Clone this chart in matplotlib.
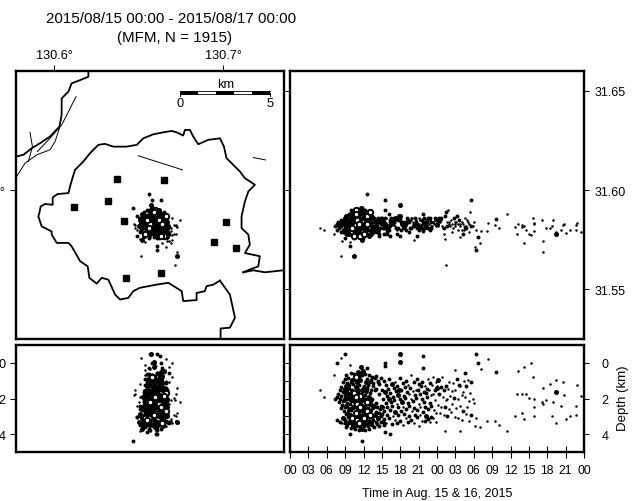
import matplotlib
matplotlib.use('Agg')
import matplotlib.pyplot as plt
import numpy as np

plt.rcParams['font.family'] = ['Liberation Sans', 'DejaVu Sans']
plt.rcParams['font.size'] = 9
plt.rcParams['axes.linewidth'] = 1.7

# Events, one position per event in every list
event_hour = [
    4.9, 5.6, 7.2, 7.6, 8.4, 9.0, 9.8, 9.8, 8.5, 10.4,
    11.7, 16.3, 15.5, 18.0, 18.0, 21.7, 21.7, 15.5, 15.5, 12.5,
    26.9, 28.5, 30.4, 30.7, 32.3, 31.2, 33.7, 37.2, 38.2, 39.3,
    39.7, 41.3, 42.5, 43.5, 44.6, 46.9, 43.5, 44.7, 47.5, 41.1,
    41.8, 42.9, 44.3, 46.7, 42.7, 45.7, 45.1, 46.7, 43.5, 39.9,
    39.9, 38.2, 37.8, 36.8, 38.6, 37.0, 37.9, 39.1, 39.9, 35.5,
    34.2, 33.4, 32.1, 31.0, 30.2, 29.5, 27.7, 25.3, 25.5, 41.3,
    9.2, 9.9, 10.5, 11.1, 11.6, 12.3, 12.9, 13.4, 14.1, 14.8,
    8.9, 9.5, 10.2, 10.8, 11.4, 11.9, 12.5, 13.2, 13.8, 14.4,
    8.7, 9.3, 10.0, 10.6, 11.2, 11.8, 12.4, 13.0, 13.6, 14.3,
    8.4, 9.1, 9.7, 10.3, 11.0, 11.5, 12.1, 12.8, 13.5, 14.6,
    8.1, 8.8, 9.4, 10.1, 10.7, 11.3, 11.9, 12.6, 13.3, 14.0,
    7.9, 8.6, 9.2, 9.9, 10.5, 11.1, 11.7, 12.4, 13.1, 13.8,
    7.6, 8.4, 9.0, 9.6, 10.2, 10.9, 11.5, 12.2, 12.9, 14.5,
    7.4, 8.2, 8.9, 9.5, 10.1, 10.7, 11.3, 12.0, 12.7, 13.4,
    8.0, 8.7, 9.3, 9.9, 10.6, 11.2, 11.8, 12.5, 13.2, 14.1,
    8.5, 9.1, 9.8, 10.4, 11.0, 11.6, 12.3, 13.0, 13.7, 14.9,
    8.3, 9.0, 9.6, 10.3, 10.9, 11.5, 12.1, 12.8, 13.5, 14.2,
    8.8, 9.4, 10.0, 10.7, 11.3, 11.9, 12.6, 13.3, 14.0, 14.7,
    9.2, 9.8, 10.5, 11.1, 11.7, 12.4, 13.1, 13.8, 14.5, 15.0,
    8.6, 9.5, 10.2, 10.8, 11.4, 12.0, 12.7, 13.4, 14.3, 14.9,
    9.0, 9.7, 10.4, 11.0, 11.6, 12.2, 12.9, 13.6, 14.4, 15.2,
    7.7, 8.9, 10.1, 10.7, 11.3, 11.9, 12.5, 13.2, 14.0, 14.8,
    8.2, 9.3, 10.3, 11.0, 11.5, 12.1, 12.7, 13.4, 14.2, 15.3,
    9.1, 10.0, 10.6, 11.2, 11.8, 12.3, 12.9, 13.7, 14.6, 15.4,
    15.3, 16.2, 17.1, 18.0, 18.9, 19.8, 20.7, 21.6, 22.5, 23.4,
    15.7, 16.6, 17.5, 18.4, 19.3, 20.2, 21.1, 22.0, 22.9, 23.8,
    15.1, 16.0, 16.9, 17.8, 18.7, 19.6, 20.5, 21.4, 22.3, 23.2,
    15.5, 16.4, 17.3, 18.2, 19.1, 20.0, 20.9, 21.8, 22.7, 23.6,
    15.9, 16.8, 17.7, 18.6, 19.5, 20.4, 21.3, 22.2, 23.1, 24.0,
    15.2, 16.1, 17.0, 17.9, 18.8, 19.7, 20.6, 21.5, 22.4, 23.3,
    15.6, 16.5, 17.4, 18.3, 19.2, 20.1, 21.0, 21.9, 22.8, 23.7,
    15.0, 15.8, 16.7, 17.6, 18.5, 19.4, 20.3, 21.2, 22.1, 23.0,
    15.4, 16.3, 17.2, 18.1, 19.0, 19.9, 20.8, 21.7, 22.6, 23.5,
    15.9, 16.8, 17.7, 18.6, 19.5, 20.4, 21.3, 22.2, 23.1, 23.9,
    15.3, 16.2, 17.1, 18.0, 18.9, 19.8, 20.7, 21.6, 22.5, 23.4,
    15.7, 16.6, 17.5, 18.4, 19.3, 20.2, 21.1, 22.0, 22.9, 23.8,
    24.2, 24.8, 25.4, 26.0, 26.6, 27.2, 27.8, 28.4, 29.0, 29.6,
    24.0, 24.6, 25.2, 25.8, 26.4, 27.0, 27.6, 28.2, 28.8, 29.4,
    24.4, 25.0, 25.6, 26.2, 26.8, 27.4, 28.0, 28.6, 29.2, 29.8,
    24.1, 24.7, 25.3, 25.9, 26.5, 27.1, 27.7, 28.3, 28.9, 30.0,
    24.5, 25.1, 25.7, 26.3, 26.9, 27.5, 28.1, 28.7, 29.3, 30.3,
]
event_depth = [
    1.5, 1.9, 0.7, 0.0, -0.25, -0.5, 0.1, 4.0, 3.4, 3.3,
    4.4, 4.0, 3.9, -0.5, -0.05, -0.4, 0.3, 0.0, 0.2, 0.3,
    0.4, 0.55, -0.5, 0.0, -0.2, 0.35, 0.5, 0.45, 0.25, 0.0,
    0.8, 1.4, 1.2, 0.95, 1.1, 1.25, 1.65, 1.8, 1.85, 2.2,
    2.1, 2.2, 2.4, 2.4, 3.0, 3.0, 3.15, 2.95, 3.35, 2.5,
    3.0, 3.15, 2.8, 3.0, 1.75, 1.75, 1.75, 1.95, 2.05, 3.8,
    3.5, 3.25, 3.25, 3.6, 3.55, 2.9, 3.8, 3.8, 2.1, 2.3,
    0.7, 0.55, 0.65, 0.5, 0.25, 0.6, 0.7, 0.8, 0.75, 0.85,
    0.9, 0.85, 0.95, 0.8, 0.55, 0.45, 0.9, 0.95, 0.85, 1.0,
    1.1, 1.15, 1.05, 0.9, 0.75, 0.7, 1.1, 1.05, 1.15, 1.1,
    1.35, 1.3, 1.25, 1.2, 1.05, 0.95, 1.3, 1.25, 1.3, 1.2,
    1.5, 1.45, 1.4, 1.5, 1.35, 1.25, 1.45, 1.4, 1.5, 1.45,
    1.75, 1.65, 1.6, 1.55, 1.7, 1.5, 1.65, 1.6, 1.7, 1.55,
    1.9, 1.85, 1.8, 1.75, 1.9, 1.7, 1.85, 1.8, 1.9, 1.75,
    2.05, 2.0, 2.05, 1.95, 2.1, 1.9, 2.0, 2.05, 1.95, 2.0,
    2.2, 2.15, 2.25, 2.1, 2.2, 2.15, 2.1, 2.2, 2.15, 2.25,
    2.35, 2.4, 2.3, 2.45, 2.3, 2.35, 2.4, 2.3, 2.35, 2.4,
    2.55, 2.5, 2.6, 2.5, 2.55, 2.5, 2.6, 2.55, 2.5, 2.45,
    2.7, 2.75, 2.65, 2.8, 2.7, 2.75, 2.7, 2.65, 2.75, 2.6,
    2.85, 2.9, 2.95, 2.85, 2.9, 2.85, 2.95, 2.9, 2.8, 2.85,
    3.1, 3.05, 3.1, 3.0, 3.05, 3.1, 3.0, 3.05, 3.1, 3.0,
    3.2, 3.3, 3.25, 3.2, 3.3, 3.2, 3.25, 3.2, 3.15, 3.25,
    3.2, 3.4, 3.4, 3.45, 3.4, 3.35, 3.4, 3.35, 3.3, 3.3,
    3.3, 3.5, 3.55, 3.5, 3.6, 3.5, 3.55, 3.5, 3.45, 3.4,
    3.6, 3.65, 3.7, 3.75, 3.7, 3.75, 3.7, 3.6, 3.55, 3.5,
    1.0, 0.9, 1.1, 0.85, 1.0, 0.7, 0.9, 1.05, 0.9, 0.8,
    1.25, 1.2, 1.3, 1.15, 1.25, 1.1, 1.2, 1.3, 1.15, 1.05,
    1.5, 1.45, 1.4, 1.5, 1.35, 1.4, 1.5, 1.3, 1.45, 1.25,
    1.65, 1.7, 1.6, 1.55, 1.65, 1.6, 1.55, 1.65, 1.5, 1.5,
    1.85, 1.9, 1.8, 1.85, 1.75, 1.8, 1.75, 1.7, 1.8, 1.4,
    2.05, 2.0, 2.1, 2.0, 1.95, 2.05, 1.95, 2.0, 1.9, 1.75,
    2.25, 2.2, 2.3, 2.2, 2.25, 2.15, 2.3, 2.2, 2.25, 2.1,
    2.5, 2.45, 2.4, 2.5, 2.45, 2.4, 2.55, 2.45, 2.5, 2.4,
    2.7, 2.65, 2.75, 2.7, 2.6, 2.7, 2.65, 2.75, 2.6, 2.65,
    2.95, 3.0, 2.9, 2.85, 3.0, 2.95, 2.9, 3.0, 3.05, 2.8,
    3.15, 3.1, 3.2, 3.25, 3.1, 3.2, 3.05, 3.25, 3.15, 3.1,
    3.4, 3.45, 3.35, 3.5, 3.3, 3.35, 3.55, 3.25, 3.3, 3.3,
    0.95, 0.8, 1.3, 1.1, 1.15, 0.9, 1.3, 1.0, 0.95, 1.1,
    1.3, 1.35, 1.5, 1.45, 1.6, 1.55, 1.25, 1.65, 1.3, 1.7,
    1.75, 1.9, 2.0, 1.85, 1.95, 2.05, 1.8, 1.9, 2.15, 2.0,
    2.35, 2.45, 2.5, 2.6, 2.3, 2.55, 2.4, 2.7, 2.45, 2.25,
    2.8, 2.95, 3.0, 2.75, 3.05, 3.1, 3.2, 2.85, 3.25, 3.1,
]
event_lat = [
    31.581, 31.580, 31.578, 31.5825, 31.567, 31.586, 31.574, 31.572, 31.5745, 31.567,
    31.591, 31.577, 31.590, 31.5925, 31.587, 31.588, 31.5795, 31.595, 31.586, 31.598,
    31.584, 31.5815, 31.570, 31.5765, 31.5835, 31.5795, 31.5855, 31.583, 31.582, 31.5775,
    31.586, 31.569, 31.581, 31.579, 31.5825, 31.5835, 31.578, 31.583, 31.579, 31.585,
    31.581, 31.585, 31.580, 31.580, 31.582, 31.580, 31.5785, 31.5825, 31.5775, 31.5795,
    31.583, 31.5735, 31.5815, 31.5815, 31.580, 31.578, 31.5825, 31.578, 31.5835, 31.588,
    31.581, 31.5825, 31.5795, 31.5735, 31.5715, 31.595, 31.5765, 31.5755, 31.5623, 31.5745,
    31.583, 31.587, 31.579, 31.585, 31.590, 31.581, 31.586, 31.584, 31.580, 31.586,
    31.581, 31.578, 31.585, 31.589, 31.583, 31.586, 31.578, 31.587, 31.582, 31.584,
    31.584, 31.586, 31.581, 31.577, 31.588, 31.591, 31.583, 31.580, 31.586, 31.579,
    31.579, 31.583, 31.588, 31.584, 31.580, 31.578, 31.589, 31.585, 31.582, 31.577,
    31.582, 31.585, 31.578, 31.582, 31.590, 31.585, 31.581, 31.587, 31.579, 31.583,
    31.584, 31.580, 31.586, 31.590, 31.577, 31.583, 31.588, 31.580, 31.586, 31.581,
    31.583, 31.582, 31.579, 31.585, 31.587, 31.581, 31.577, 31.590, 31.583, 31.585,
    31.582, 31.584, 31.586, 31.580, 31.583, 31.590, 31.585, 31.578, 31.587, 31.582,
    31.581, 31.579, 31.583, 31.588, 31.578, 31.586, 31.589, 31.583, 31.580, 31.584,
    31.583, 31.587, 31.581, 31.576, 31.585, 31.591, 31.579, 31.584, 31.586, 31.583,
    31.585, 31.582, 31.578, 31.584, 31.589, 31.577, 31.583, 31.588, 31.581, 31.579,
    31.580, 31.586, 31.583, 31.588, 31.580, 31.576, 31.587, 31.582, 31.585, 31.581,
    31.578, 31.584, 31.587, 31.582, 31.577, 31.585, 31.589, 31.581, 31.578, 31.584,
    31.584, 31.579, 31.581, 31.589, 31.584, 31.578, 31.583, 31.587, 31.580, 31.585,
    31.586, 31.582, 31.578, 31.585, 31.590, 31.582, 31.577, 31.584, 31.586, 31.581,
    31.580, 31.576, 31.585, 31.579, 31.583, 31.588, 31.581, 31.578, 31.585, 31.583,
    31.583, 31.585, 31.589, 31.577, 31.581, 31.586, 31.580, 31.586, 31.582, 31.578,
    31.578, 31.584, 31.577, 31.587, 31.575, 31.583, 31.586, 31.579, 31.584, 31.582,
    31.584, 31.588, 31.582, 31.585, 31.580, 31.586, 31.583, 31.585, 31.581, 31.584,
    31.581, 31.584, 31.586, 31.582, 31.585, 31.583, 31.580, 31.583, 31.586, 31.585,
    31.586, 31.581, 31.584, 31.587, 31.583, 31.581, 31.585, 31.582, 31.584, 31.582,
    31.583, 31.585, 31.581, 31.584, 31.586, 31.584, 31.582, 31.586, 31.583, 31.586,
    31.580, 31.583, 31.586, 31.581, 31.584, 31.586, 31.581, 31.584, 31.582, 31.583,
    31.585, 31.582, 31.584, 31.586, 31.582, 31.585, 31.584, 31.581, 31.585, 31.584,
    31.582, 31.586, 31.580, 31.583, 31.585, 31.582, 31.586, 31.583, 31.580, 31.585,
    31.584, 31.579, 31.583, 31.585, 31.581, 31.584, 31.582, 31.585, 31.583, 31.581,
    31.581, 31.584, 31.586, 31.580, 31.583, 31.586, 31.581, 31.584, 31.586, 31.583,
    31.578, 31.586, 31.581, 31.584, 31.579, 31.583, 31.585, 31.582, 31.584, 31.586,
    31.583, 31.580, 31.585, 31.577, 31.584, 31.581, 31.577, 31.583, 31.581, 31.584,
    31.586, 31.583, 31.578, 31.582, 31.585, 31.575, 31.583, 31.581, 31.585, 31.582,
    31.585, 31.582, 31.589, 31.584, 31.581, 31.587, 31.583, 31.580, 31.584, 31.582,
    31.583, 31.586, 31.581, 31.590, 31.583, 31.582, 31.585, 31.583, 31.581, 31.589,
    31.586, 31.581, 31.584, 31.582, 31.586, 31.583, 31.580, 31.586, 31.583, 31.582,
    31.582, 31.585, 31.587, 31.583, 31.579, 31.584, 31.582, 31.578, 31.585, 31.584,
    31.584, 31.578, 31.582, 31.585, 31.583, 31.580, 31.584, 31.582, 31.579, 31.580,
]
event_lon = [
    130.648, 130.651, 130.654, 130.658, 130.6515, 130.657, 130.654, 130.661, 130.667, 130.6725,
    130.6465, 130.6605, 130.655, 130.6575, 130.659, 130.6625, 130.664, 130.6635, 130.6595, 130.6562,
    130.654, 130.668, 130.661, 130.659, 130.666, 130.657, 130.665, 130.663, 130.668, 130.670,
    130.670, 130.6725, 130.651, 130.655, 130.668, 130.664, 130.6595, 130.647, 130.666, 130.650,
    130.669, 130.6745, 130.656, 130.649, 130.672, 130.665, 130.658, 130.671, 130.668, 130.652,
    130.663, 130.669, 130.673, 130.650, 130.666, 130.672, 130.648, 130.671, 130.665, 130.6605,
    130.654, 130.672, 130.669, 130.664, 130.666, 130.658, 130.657, 130.651, 130.6715, 130.668,
    130.658, 130.661, 130.656, 130.663, 130.659, 130.655, 130.662, 130.657, 130.660, 130.664,
    130.660, 130.656, 130.663, 130.658, 130.661, 130.665, 130.655, 130.659, 130.662, 130.657,
    130.657, 130.662, 130.655, 130.660, 130.664, 130.658, 130.656, 130.661, 130.666, 130.659,
    130.661, 130.655, 130.659, 130.664, 130.657, 130.662, 130.660, 130.654, 130.658, 130.663,
    130.656, 130.660, 130.665, 130.658, 130.662, 130.655, 130.659, 130.664, 130.657, 130.661,
    130.662, 130.657, 130.654, 130.660, 130.666, 130.658, 130.653, 130.661, 130.656, 130.663,
    130.655, 130.659, 130.663, 130.657, 130.652, 130.661, 130.665, 130.656, 130.660, 130.654,
    130.664, 130.653, 130.658, 130.662, 130.656, 130.660, 130.654, 130.667, 130.659, 130.657,
    130.658, 130.663, 130.655, 130.660, 130.665, 130.653, 130.662, 130.657, 130.667, 130.661,
    130.653, 130.660, 130.664, 130.656, 130.662, 130.658, 130.651, 130.666, 130.659, 130.655,
    130.661, 130.655, 130.659, 130.667, 130.653, 130.663, 130.657, 130.660, 130.652, 130.665,
    130.657, 130.664, 130.652, 130.660, 130.655, 130.662, 130.666, 130.658, 130.654, 130.663,
    130.665, 130.654, 130.661, 130.657, 130.663, 130.651, 130.659, 130.667, 130.656, 130.660,
    130.652, 130.662, 130.656, 130.665, 130.658, 130.654, 130.661, 130.649, 130.664, 130.659,
    130.660, 130.650, 130.664, 130.655, 130.661, 130.657, 130.653, 130.663, 130.659, 130.666,
    130.656, 130.661, 130.654, 130.659, 130.664, 130.652, 130.662, 130.657, 130.660, 130.655,
    130.663, 130.655, 130.659, 130.653, 130.661, 130.657, 130.665, 130.651, 130.660, 130.656,
    130.654, 130.660, 130.663, 130.657, 130.652, 130.661, 130.656, 130.664, 130.659, 130.662,
    130.661, 130.657, 130.664, 130.659, 130.662, 130.655, 130.660, 130.666, 130.658, 130.663,
    130.656, 130.663, 130.659, 130.665, 130.654, 130.661, 130.657, 130.662, 130.660, 130.658,
    130.664, 130.658, 130.661, 130.655, 130.660, 130.666, 130.653, 130.659, 130.663, 130.656,
    130.659, 130.666, 130.654, 130.662, 130.657, 130.660, 130.664, 130.656, 130.661, 130.667,
    130.662, 130.655, 130.660, 130.664, 130.658, 130.653, 130.661, 130.665, 130.657, 130.659,
    130.657, 130.661, 130.665, 130.656, 130.663, 130.659, 130.654, 130.660, 130.666, 130.662,
    130.665, 130.653, 130.658, 130.661, 130.655, 130.667, 130.659, 130.663, 130.656, 130.660,
    130.660, 130.664, 130.656, 130.653, 130.662, 130.657, 130.665, 130.658, 130.654, 130.661,
    130.654, 130.659, 130.663, 130.666, 130.651, 130.660, 130.656, 130.664, 130.658, 130.662,
    130.663, 130.650, 130.661, 130.657, 130.665, 130.654, 130.659, 130.667, 130.652, 130.660,
    130.658, 130.665, 130.653, 130.660, 130.656, 130.663, 130.649, 130.661, 130.664, 130.655,
    130.661, 130.655, 130.668, 130.652, 130.659, 130.670, 130.657, 130.654, 130.663, 130.650,
    130.658, 130.663, 130.656, 130.661, 130.665, 130.654, 130.660, 130.657, 130.664, 130.662,
    130.661, 130.655, 130.667, 130.659, 130.653, 130.663, 130.657, 130.665, 130.660, 130.656,
    130.655, 130.664, 130.660, 130.652, 130.666, 130.658, 130.662, 130.656, 130.663, 130.659,
    130.663, 130.657, 130.654, 130.665, 130.660, 130.651, 130.667, 130.659, 130.655, 130.662,
    130.659, 130.666, 130.662, 130.655, 130.657, 130.664, 130.653, 130.660, 130.668, 130.656,
]
event_mag = [
    0, 0, 0, 1, 0, 1, 0, 1, 0, 2,
    1, 1, 1, 2, 2, 1, 1, 1, 1, 1,
    0, 1, 1, 1, 0, 0, 1, 0, 0, 0,
    0, 0, 0, 0, 0, 0, 2, 0, 0, 0,
    0, 0, 0, 0, 0, 0, 0, 0, 0, 0,
    0, 0, 0, 0, 0, 0, 0, 0, 0, 0,
    0, 0, 0, 0, 0, 1, 0, 0, 0, 0,
    1, 1, 1, 2, 2, 1, 1, 1, 1, 1,
    1, 1, 2, 3, 1, 2, 1, 1, 1, 1,
    1, 1, 1, 2, 2, 1, 2, 1, 1, 1,
    1, 2, 1, 1, 2, 2, 1, 1, 1, 1,
    1, 1, 2, 1, 2, 1, 2, 1, 1, 1,
    1, 1, 2, 1, 3, 2, 1, 2, 1, 1,
    1, 1, 1, 2, 1, 2, 3, 1, 2, 1,
    1, 1, 2, 2, 1, 3, 1, 2, 1, 1,
    1, 1, 1, 2, 2, 1, 2, 3, 1, 1,
    1, 2, 1, 1, 3, 2, 1, 2, 1, 1,
    1, 1, 2, 2, 1, 3, 2, 1, 2, 1,
    1, 1, 1, 3, 2, 1, 3, 1, 1, 1,
    1, 2, 1, 2, 1, 2, 3, 2, 1, 1,
    2, 1, 3, 1, 2, 3, 1, 1, 2, 1,
    1, 2, 1, 3, 2, 1, 2, 1, 1, 1,
    1, 1, 2, 1, 3, 2, 1, 2, 1, 1,
    1, 1, 2, 2, 1, 2, 1, 1, 1, 1,
    1, 1, 1, 1, 2, 1, 1, 1, 1, 1,
    1, 1, 0, 1, 1, 0, 1, 1, 0, 0,
    1, 2, 1, 1, 0, 1, 1, 0, 1, 0,
    1, 1, 1, 2, 1, 1, 0, 1, 1, 0,
    2, 1, 1, 1, 1, 0, 1, 1, 0, 1,
    1, 1, 2, 1, 0, 1, 1, 1, 0, 2,
    1, 2, 1, 1, 1, 0, 1, 1, 1, 0,
    1, 1, 0, 2, 1, 1, 0, 1, 1, 0,
    2, 1, 1, 1, 0, 1, 1, 0, 1, 1,
    1, 1, 2, 1, 1, 0, 1, 1, 1, 0,
    1, 0, 1, 1, 1, 1, 0, 2, 1, 0,
    1, 1, 0, 1, 0, 1, 1, 0, 1, 0,
    0, 1, 1, 0, 1, 0, 0, 1, 0, 0,
    2, 0, 1, 0, 0, 1, 0, 0, 0, 1,
    0, 1, 1, 0, 0, 0, 1, 0, 1, 0,
    1, 0, 0, 0, 1, 0, 0, 0, 0, 0,
    0, 0, 1, 0, 0, 0, 0, 1, 0, 0,
    0, 0, 1, 0, 0, 0, 0, 0, 0, 0,
]

# Observation stations
station_lon = [130.6374, 130.6648, 130.6118, 130.6317, 130.6416, 130.7015, 130.6944, 130.7074, 130.6630, 130.6426]
station_lat = [31.6054, 31.6049, 31.5915, 31.5945, 31.5844, 31.5841, 31.5740, 31.5709, 31.5583, 31.5558]

# Coast and boundary lines of the map
outline_lon = [130.6981, 130.6942, 130.6902, 130.6892, 130.6843, 130.6843, 130.6764, 130.6755, 130.6676, 130.6607,
               130.6508, 130.6469, 130.6439, 130.6390, 130.6361, 130.6321, 130.6282, 130.6252, 130.6209, 130.6199,
               130.6154, 130.6104, 130.6085, 130.6016, 130.5986, 130.5986, 130.5927, 130.5907, 130.5913, 130.5921,
               130.5947, 130.5992, 130.5992, 130.6020, 130.6085, 130.6100, 130.6124, 130.6173, 130.6213, 130.6262,
               130.6301, 130.6351, 130.6429, 130.6489, 130.6528, 130.6587, 130.6646, 130.6695, 130.6725, 130.6764,
               130.6774, 130.6804, 130.6823, 130.6853, 130.6912, 130.6981, 130.7005, 130.7020, 130.7060, 130.7099,
               130.7129, 130.7188, 130.7149, 130.7129, 130.7109, 130.7109, 130.7149, 130.7158, 130.7129, 130.7217,
               130.7208, 130.7158, 130.7119]
outline_lat = [31.5544, 31.5524, 31.5516, 31.5491, 31.5482, 31.5446, 31.5441, 31.5491, 31.5533, 31.5524,
               31.5508, 31.5491, 31.5457, 31.5449, 31.5474, 31.5549, 31.5558, 31.5529, 31.5558, 31.5616,
               31.5642, 31.5717, 31.5734, 31.5734, 31.5776, 31.5792, 31.5817, 31.5868, 31.5884, 31.5918,
               31.5930, 31.5926, 31.5963, 31.5980, 31.5985, 31.6035, 31.6102, 31.6144, 31.6186, 31.6228,
               31.6233, 31.6219, 31.6219, 31.6228, 31.6261, 31.6281, 31.6291, 31.6298, 31.6291, 31.6275,
               31.6303, 31.6303, 31.6270, 31.6231, 31.6253, 31.6261, 31.6219, 31.6161, 31.6127, 31.6094,
               31.6060, 31.6027, 31.5993, 31.5943, 31.5868, 31.5809, 31.5776, 31.5725, 31.5683, 31.5667,
               31.5616, 31.5600, 31.5586]
east_lon = [130.7119, 130.7178, 130.7247, 130.7355]
east_lat = [31.5586, 31.5596, 31.5586, 31.5596]
south_lon = [130.6981, 130.7040, 130.7070, 130.7040, 130.6985, 130.6985]
south_lat = [31.5544, 31.5474, 31.5357, 31.5307, 31.5303, 31.5256]
coast_lon = [130.6203, 130.6203, 130.6154, 130.6104, 130.6085, 130.6045, 130.6045, 130.6032, 130.5976, 130.5917,
             130.5868, 130.5819, 130.5775]
coast_lat = [31.6600, 31.6571, 31.6554, 31.6538, 31.6496, 31.6462, 31.6379, 31.6320, 31.6270, 31.6236,
             31.6211, 31.6178, 31.6169]

# Faults, thin lines
fault_lons = [[130.6130, 130.6085, 130.6045, 130.5976, 130.5901],
              [130.5858, 130.5872, 130.5848],
              [130.5779, 130.5829, 130.5898, 130.5976, 130.6006, 130.6035],
              [130.6498, 130.6760],
              [130.7178, 130.7251]]
fault_lats = [[31.6471, 31.6395, 31.6328, 31.6261, 31.6194],
              [31.6290, 31.6219, 31.6144],
              [31.6069, 31.6136, 31.6178, 31.6203, 31.6245, 31.6320],
              [31.6173, 31.6102],
              [31.6164, 31.6152]]

time_ticks = np.arange(0, 49, 3)
time_labels = ['00', '03', '06', '09', '12', '15', '18', '21', '00', '03', '06', '09', '12', '15', '18', '21', '00']
scale_km = [0, 1, 2, 3, 4, 5]

W, H = 637, 502
lon_lim = (130.5775, 130.7360)
lat_lim = (31.5250, 31.6600)
depth_lim = (5.0, -1.0)
time_lim = (0, 48)


def panel(x0, y0, x1, y1):
    # pixel box to figure fractions
    return fig.add_axes([x0 / W, 1 - y1 / H, (x1 - x0) / W, (y1 - y0) / H])


def quakes(ax, x, y):
    # small events come out as solid dots, only the biggest keep a white centre
    x, y, m = np.array(x), np.array(y), np.array(event_mag)
    ax.scatter(x[m == 0], y[m == 0], s=1.8 ** 2, color='black', linewidth=0, zorder=3)
    ax.scatter(x[m == 1], y[m == 1], s=2.8 ** 2, color='black', linewidth=0, zorder=3)
    ax.scatter(x[m == 2], y[m == 2], s=3.6 ** 2, color='black', linewidth=0, zorder=3)
    ax.scatter(x[m == 3], y[m == 3], s=3.9 ** 2, facecolor='white', edgecolor='black', linewidth=1.4, zorder=4)


fig = plt.figure(figsize=(W / 100, H / 100), dpi=100)
ax_map = panel(16, 72, 284, 340)
ax_lat = panel(290, 72, 584, 340)
ax_lon = panel(16, 346, 284, 453)
ax_time = panel(290, 346, 584, 453)

# Map
for lons, lats in [(outline_lon, outline_lat), (east_lon, east_lat), (south_lon, south_lat), (coast_lon, coast_lat)]:
    ax_map.plot(lons, lats, color='black', lw=1.3, solid_joinstyle='round')
for lons, lats in zip(fault_lons, fault_lats):
    ax_map.plot(lons, lats, color='black', lw=0.7)
ax_map.plot(station_lon, station_lat, 's', color='black', ms=4.6, zorder=4)
quakes(ax_map, event_lon, event_lat)
ax_map.set_xlim(lon_lim)
ax_map.set_ylim(lat_lim)
ax_map.set_xticks([130.6, 130.7])
ax_map.set_xticklabels(['130.6°', '130.7°'], fontsize=9.2)
ax_map.xaxis.tick_top()
ax_map.set_yticks([31.60])
ax_map.set_yticklabels(['31.60°'], fontsize=9.2)
ax_map.tick_params(axis='x', length=4, width=0.7, pad=3)
ax_map.tick_params(axis='y', length=4, width=0.7, pad=3.5)

# Scale bar, 5 km
deg_per_km = 0.01065
bar_lon = 130.6746
bar_lat = 31.6490
for i in range(5):
    ax_map.plot([bar_lon + scale_km[i] * deg_per_km, bar_lon + scale_km[i + 1] * deg_per_km], [bar_lat, bar_lat],
                color='black' if i % 2 == 0 else 'white', lw=2.6, solid_capstyle='butt', zorder=5)
ax_map.plot([bar_lon, bar_lon + 5 * deg_per_km], [bar_lat + 0.0007, bar_lat + 0.0007], color='black', lw=0.6, zorder=6)
ax_map.plot([bar_lon, bar_lon + 5 * deg_per_km], [bar_lat - 0.0007, bar_lat - 0.0007], color='black', lw=0.6, zorder=6)
ax_map.plot([bar_lon, bar_lon], [bar_lat, bar_lat - 0.0014], color='black', lw=0.7, zorder=6)
ax_map.plot([bar_lon + 5 * deg_per_km, bar_lon + 5 * deg_per_km], [bar_lat, bar_lat - 0.0014], color='black', lw=0.7, zorder=6)
ax_map.text(bar_lon + 2.5 * deg_per_km, bar_lat + 0.0012, 'km', ha='center', va='bottom', fontsize=9.2)
ax_map.text(bar_lon, bar_lat - 0.0020, '0', ha='center', va='top', fontsize=9.2)
ax_map.text(bar_lon + 5 * deg_per_km, bar_lat - 0.0020, '5', ha='center', va='top', fontsize=9.2)

# Latitude against time
quakes(ax_lat, event_hour, event_lat)
ax_lat.set_xlim(time_lim)
ax_lat.set_ylim(lat_lim)
ax_lat.set_xticks([])
ax_lat.set_yticks([31.55, 31.60, 31.65])
ax_lat.set_yticklabels(['31.55', '31.60', '31.65'], fontsize=9)
ax_lat.tick_params(axis='y', left=True, right=True, labelleft=False, labelright=True, length=3.6, width=0.7, pad=4)

# Depth against longitude
quakes(ax_lon, event_lon, event_depth)
ax_lon.set_xlim(lon_lim)
ax_lon.set_ylim(depth_lim)
ax_lon.set_xticks([])
ax_lon.set_yticks([0, 2, 4])
ax_lon.set_yticklabels(['0', '2', '4'], fontsize=9.2)
ax_lon.tick_params(axis='y', length=4, width=0.7, pad=3.5)
ax_lon.set_yticks([0, 1, 2, 3, 4], minor=True)
ax_lon.tick_params(axis='y', which='minor', left=False, right=True, length=3, width=0.7)

# Depth against time
quakes(ax_time, event_hour, event_depth)
ax_time.set_xlim(time_lim)
ax_time.set_ylim(depth_lim)
ax_time.set_xticks(time_ticks)
ax_time.set_xticklabels(time_labels, fontsize=8.8)
ax_time.tick_params(axis='x', direction='inout', length=8, width=0.8, pad=5)
ax_time.set_yticks([0, 2, 4])
ax_time.set_yticklabels(['0', '2', '4'], fontsize=9)
ax_time.tick_params(axis='y', left=True, right=True, labelleft=False, labelright=True, length=3.6, width=0.7, pad=9)
ax_time.set_yticks([0, 1, 2, 3, 4], minor=True)
ax_time.tick_params(axis='y', which='minor', left=True, right=False, length=3, width=0.7)

fig.text(623 / W, 1 - 398 / H, 'Depth (km)', rotation=90, ha='center', va='center', fontsize=9.5)
fig.text(437 / W, 1 - 494 / H, 'Time in Aug. 15 & 16, 2015', ha='center', va='center', fontsize=9)
fig.text(171 / W, 1 - 19 / H, '2015/08/15 00:00 - 2015/08/17 00:00', ha='center', va='center', fontsize=10.9)
fig.text(175 / W, 1 - 38 / H, '(MFM, N = 1915)', ha='center', va='center', fontsize=10.9)

fig.savefig('out.png', dpi=100)
